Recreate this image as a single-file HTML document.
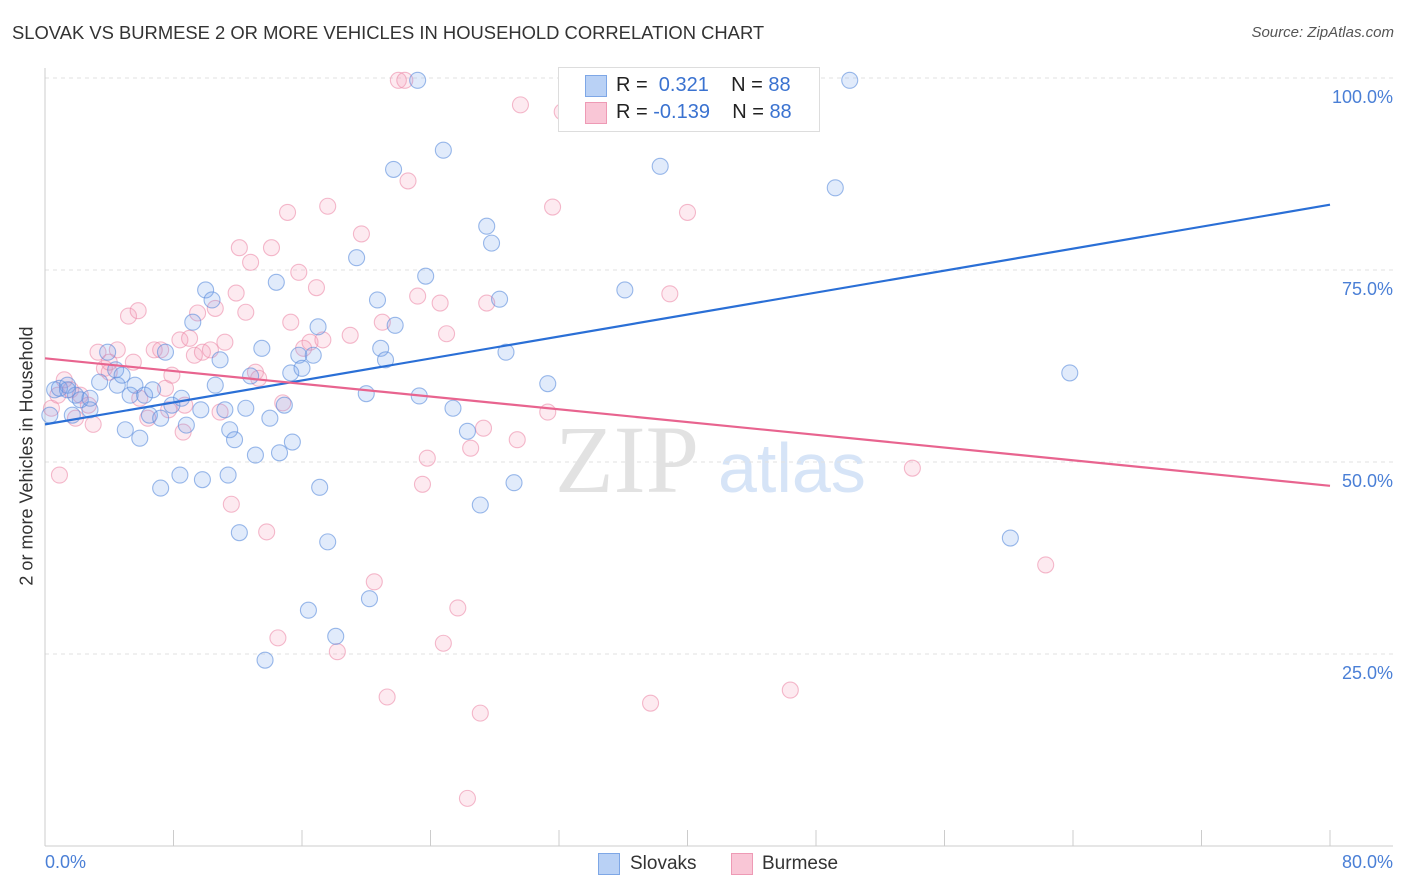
<!DOCTYPE html>
<html><head><meta charset="utf-8"><style>
body{margin:0;background:#fff;font-family:"Liberation Sans",sans-serif;}
#wrap{position:relative;width:1406px;height:892px;overflow:hidden;}
.t{position:absolute;white-space:nowrap;}
</style></head><body>
<div id="wrap">
<div class="t" style="left:12px;top:22px;font-size:18.4px;color:#333;">SLOVAK VS BURMESE 2 OR MORE VEHICLES IN HOUSEHOLD CORRELATION CHART</div>
<div class="t" style="right:12px;top:24px;font-size:15px;color:#555;font-style:italic;">Source: ZipAtlas.com</div>
<svg id="plot" width="1406" height="892" style="position:absolute;left:0;top:0">
<text x="555" y="492" font-family="Liberation Serif,serif" font-size="96" fill="#e2e2e2">ZIP</text>
<text x="718" y="492" font-family="Liberation Sans,sans-serif" font-size="70" fill="#d6e4f7">atlas</text>
</svg>
<div class="t" style="left:27px;top:456px;font-size:18px;color:#333;transform:translate(-50%,-50%) rotate(-90deg);">2 or more Vehicles in Household</div>
<div class="t" style="left:45px;top:852px;font-size:18px;color:#4a7fd6;">0.0%</div>
<div class="t" style="right:13px;top:852px;font-size:18px;color:#4a7fd6;">80.0%</div>
<div style="position:absolute;left:558px;top:67px;width:260px;height:63px;border:1px solid #ddd;background:#fff;"></div>
<div style="position:absolute;left:585px;top:75px;width:20px;height:20px;background:#b9d1f5;border:1px solid #7ea7e6;"></div>
<div style="position:absolute;left:585px;top:102px;width:20px;height:20px;background:#f9c6d6;border:1px solid #ee9ab5;"></div>
<div class="t" style="left:616px;top:74px;font-size:20px;color:#222;">R = &nbsp;<span style="color:#3a72d0">0.321</span>&nbsp;&nbsp;&nbsp; N = <span style="color:#3a72d0">88</span></div>
<div class="t" style="left:616px;top:101px;font-size:20px;color:#222;">R = <span style="color:#3a72d0">-0.139</span>&nbsp;&nbsp;&nbsp; N = <span style="color:#3a72d0">88</span></div>
<div style="position:absolute;left:598px;top:853px;width:20px;height:20px;background:#b9d1f5;border:1px solid #7ea7e6;"></div>
<div class="t" style="left:630px;top:853px;font-size:19px;color:#333;">Slovaks</div>
<div style="position:absolute;left:731px;top:853px;width:20px;height:20px;background:#f9c6d6;border:1px solid #ee9ab5;"></div>
<div class="t" style="left:762px;top:853px;font-size:19px;color:#333;">Burmese</div>
</div>
<script>
const yTicks=[25,50,75,100];
const yTickLabels=["25.0%","50.0%","75.0%","100.0%"];
const slovakX=[0.3,0.6,0.9,1.4,1.9,2.2,2.8,1.7,3.4,3.9,4.4,4.5,4.8,5.0,5.3,5.6,5.9,6.2,6.5,6.7,7.2,7.5,7.9,8.4,8.5,8.8,7.2,9.2,9.7,9.8,10.0,10.4,10.6,10.9,11.2,11.4,11.5,11.8,12.1,12.5,12.8,13.1,13.5,13.7,14.0,14.4,14.6,14.9,15.3,15.4,15.8,16.0,16.4,16.7,17.0,17.1,17.6,18.1,19.4,20.0,20.2,20.7,20.9,21.2,21.7,21.8,23.3,23.7,24.8,25.4,26.3,27.1,27.5,27.8,28.3,28.7,29.2,31.3,23.2,36.1,38.0,38.3,49.2,50.1,60.1,63.8,1.4,2.8];
const slovakY=[56.1,59.4,59.6,60.0,58.7,58.1,56.8,56.1,60.4,64.3,62.0,60.0,61.3,54.2,58.7,60.0,53.1,58.7,56.1,59.4,55.7,64.3,57.4,48.3,58.3,54.8,46.6,68.2,56.8,47.7,72.4,71.1,60.0,63.3,56.8,48.3,54.2,52.9,40.8,57.0,61.2,50.9,64.8,24.2,55.7,73.4,51.2,57.4,61.6,52.6,63.9,62.2,30.7,63.9,67.6,46.7,39.6,27.3,76.6,58.9,32.2,71.1,64.8,63.3,88.1,67.8,58.6,74.2,90.6,57.0,54.0,44.4,80.7,78.5,71.2,64.3,47.3,60.2,99.7,72.4,99.9,88.5,85.7,99.7,40.1,61.6,59.4,58.3];
const burmeseX=[0.4,0.8,1.2,1.6,1.9,2.2,2.7,3.0,3.3,3.7,4.0,4.5,5.2,5.5,5.8,5.9,6.4,6.8,7.2,7.5,7.7,7.9,8.4,8.6,8.7,9.0,9.3,9.5,9.8,10.3,10.6,10.9,11.2,11.6,11.9,12.1,12.5,12.8,13.1,13.3,13.8,14.1,14.5,14.8,15.1,15.3,15.8,16.1,16.5,16.9,17.3,17.6,18.2,19.0,19.7,20.5,21.0,21.3,22.0,22.6,22.4,23.2,23.5,23.8,24.6,24.8,25.0,25.7,26.5,27.1,27.3,27.5,26.3,29.4,29.6,31.3,31.6,32.2,37.7,38.9,40.0,46.4,54.0,62.3,0.9,4.0];
const burmeseY=[57.0,58.7,60.7,59.4,55.7,58.7,57.4,54.9,64.3,62.2,61.7,64.6,69.0,63.0,69.7,58.3,55.7,64.6,64.6,59.6,56.8,61.3,65.9,53.9,57.4,66.1,63.9,69.4,64.3,64.6,70.0,56.5,65.6,44.5,72.0,77.9,69.5,76.0,61.7,60.9,40.9,77.9,27.1,57.7,82.5,68.2,74.7,64.8,65.6,72.7,65.9,83.3,25.3,66.5,79.7,34.4,68.2,19.4,99.7,86.6,99.7,71.6,47.1,50.5,70.7,26.4,66.7,31.0,51.8,17.3,54.4,70.7,6.2,52.9,96.5,56.5,83.2,95.6,18.6,71.9,82.5,20.3,49.2,36.6,48.3,63.0];
const trendX=[0,80];
const slovakTrend=[54.9,83.5];
const burmeseTrend=[63.5,46.9];

const X0=45,X1=1330,Y0=846,Y100=78;
const sx=v=>X0+(v/80)*(X1-X0);
const sy=v=>Y0-(v/100)*(Y0-Y100);
const svg=document.getElementById('plot');
const NS='http://www.w3.org/2000/svg';
function mk(tag,attrs){const e=document.createElementNS(NS,tag);for(const k in attrs)e.setAttribute(k,attrs[k]);svg.appendChild(e);return e;}
yTicks.forEach((t,i)=>{
  const g=mk('line',{x1:X0,x2:1393,y1:sy(t),y2:sy(t),stroke:'#e2e2e2','stroke-dasharray':'4,4'});
  
  
  const tx=mk('text',{x:1393,y:sy(t)+25,'text-anchor':'end','font-size':18,fill:'#4a7fd6','font-family':'Liberation Sans,sans-serif'});
  tx.textContent=yTickLabels[i];
  
  
});
const ax=mk('line',{x1:X0,x2:X0,y1:68,y2:Y0,stroke:'#ccc'});


const bx=mk('line',{x1:X0,x2:1393,y1:Y0,y2:Y0,stroke:'#ccc'});


for(let i=0;i<=10;i++){
  const t=mk('line',{x1:sx(i*8),x2:sx(i*8),y1:Y0-16,y2:Y0,stroke:'#ccc'});
  
  
}
function pts(xs,ys,fill,stroke,name){
  xs.forEach((x,i)=>{
    const c=mk('circle',{cx:sx(x),cy:sy(ys[i]),r:8,fill:fill,stroke:stroke,'stroke-width':1.1});
    
    
  });
}
pts(burmeseX,burmeseY,'rgba(246,160,188,0.22)','rgba(236,140,170,0.6)','burmese-point');
pts(slovakX,slovakY,'rgba(120,165,235,0.22)','rgba(90,140,220,0.6)','slovak-point');
const l1=mk('line',{x1:sx(trendX[0]),y1:sy(slovakTrend[0]),x2:sx(trendX[1]),y2:sy(slovakTrend[1]),stroke:'#2a6fd6','stroke-width':2.2});


const l2=mk('line',{x1:sx(trendX[0]),y1:sy(burmeseTrend[0]),x2:sx(trendX[1]),y2:sy(burmeseTrend[1]),stroke:'#e8648f','stroke-width':2.2});


</script>
</body></html>
